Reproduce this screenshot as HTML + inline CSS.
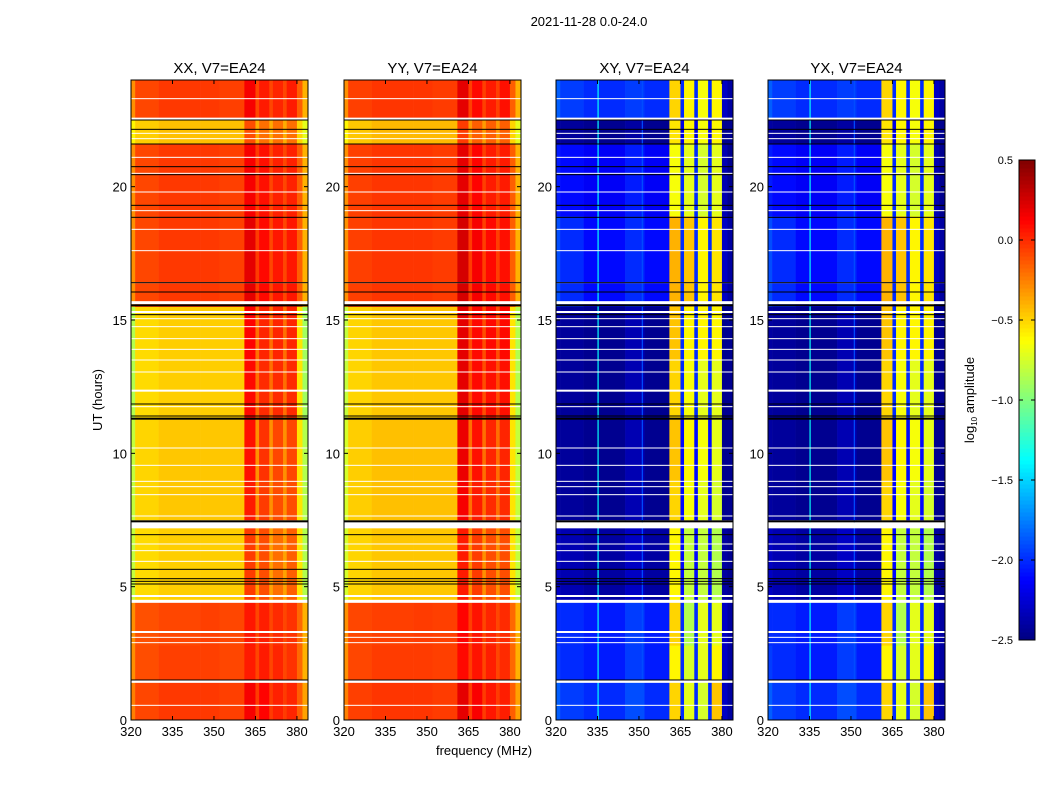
<!DOCTYPE html>
<html><head><meta charset="utf-8"><style>
body{margin:0;background:#fff;}
svg{display:block;font-family:"Liberation Sans","DejaVu Sans",sans-serif;}
</style></head><body>
<svg id="fig" width="1050" height="800" viewBox="0 0 1050 800" xmlns="http://www.w3.org/2000/svg">
<rect width="1050" height="800" fill="#fff"/>
<text x="589" y="26" font-size="13" text-anchor="middle">2021-11-28 0.0-24.0</text>
<text transform="translate(102,400) rotate(-90)" font-size="13" text-anchor="middle">UT (hours)</text>
<text x="484" y="755" font-size="13" text-anchor="middle">frequency (MHz)</text>
<g id="panels"></g>
<g id="cbar"></g>
</svg>
<script>
const panelNames = ["XX, V7=EA24","YY, V7=EA24","XY, V7=EA24","YX, V7=EA24"];
const freqEdges = [320,321.5,330,345,352,361,365,366.3,370,371.3,375,376.3,380,382,384];
const timeEdges = [0,1.5,2.8,4.5,7.3,7.5,9.0,11.3,13.5,15.5,18.9,21.6,22.5,24];
const xTicks = [320,335,350,365,380];
const yTicks = [0,5,10,15,20];
const cbarTicks = [0.5,0.0,-0.5,-1.0,-1.5,-2.0,-2.5];
const valsXX = [
[-0.25,-0.08,-0.04,-0.04,-0.06,0.15,-0.05,0.12,-0.05,0.03,-0.05,0.02,-0.15,-0.35],
[-0.3,-0.1,-0.06,-0.06,-0.08,0.05,-0.08,0.05,-0.08,0.02,-0.08,-0.02,-0.18,-0.4],
[-0.3,-0.11,-0.08,-0.06,-0.08,0.06,-0.08,0.04,-0.08,0.0,-0.08,-0.02,-0.18,-0.4],
[-0.8,-0.52,-0.48,-0.48,-0.48,-0.05,-0.35,-0.1,-0.35,-0.2,-0.35,-0.15,-0.55,-0.85],
null,
[-0.8,-0.5,-0.46,-0.46,-0.46,0.05,-0.3,-0.05,-0.3,-0.1,-0.3,-0.1,-0.55,-0.85],
[-0.8,-0.5,-0.46,-0.46,-0.46,0.08,-0.3,-0.02,-0.3,-0.08,-0.3,-0.08,-0.55,-0.85],
[-0.85,-0.52,-0.48,-0.48,-0.48,0.1,-0.2,0.0,-0.2,0.0,-0.2,0.0,-0.55,-0.9],
[-0.85,-0.52,-0.48,-0.48,-0.48,0.12,-0.2,0.02,-0.2,0.02,-0.2,0.02,-0.55,-0.9],
[-0.3,-0.08,-0.04,-0.04,-0.06,0.2,-0.05,0.1,-0.08,0.06,-0.08,0.06,-0.15,-0.4],
[-0.3,-0.08,-0.04,-0.04,-0.06,0.15,-0.05,0.08,-0.08,0.03,-0.08,0.03,-0.15,-0.4],
[-0.6,-0.48,-0.44,-0.44,-0.44,-0.1,-0.38,-0.2,-0.38,-0.2,-0.38,-0.2,-0.5,-0.7],
[-0.3,-0.08,-0.04,-0.04,-0.06,0.15,-0.08,0.05,-0.08,0.02,-0.08,0.05,-0.15,-0.4]];
const valsYY = [
[-0.25,-0.06,-0.03,-0.03,-0.05,0.2,-0.05,0.14,-0.05,0.06,-0.05,0.04,-0.15,-0.35],
[-0.3,-0.08,-0.05,-0.05,-0.06,0.1,-0.06,0.07,-0.08,0.04,-0.08,0.0,-0.18,-0.4],
[-0.3,-0.08,-0.06,-0.05,-0.06,0.12,-0.06,0.07,-0.08,0.02,-0.08,0.0,-0.18,-0.4],
[-0.75,-0.5,-0.46,-0.46,-0.46,0.05,-0.3,-0.05,-0.3,-0.1,-0.3,-0.1,-0.55,-0.8],
null,
[-0.75,-0.48,-0.44,-0.44,-0.44,0.15,-0.2,0.05,-0.2,0.0,-0.2,0.0,-0.55,-0.8],
[-0.75,-0.48,-0.44,-0.44,-0.44,0.18,-0.2,0.08,-0.2,0.02,-0.2,0.02,-0.55,-0.8],
[-0.8,-0.5,-0.46,-0.46,-0.46,0.2,-0.1,0.1,-0.1,0.08,-0.1,0.08,-0.55,-0.85],
[-0.8,-0.5,-0.46,-0.46,-0.46,0.2,-0.1,0.1,-0.1,0.1,-0.1,0.1,-0.55,-0.85],
[-0.3,-0.06,-0.03,-0.03,-0.05,0.25,-0.05,0.15,-0.06,0.1,-0.06,0.08,-0.15,-0.4],
[-0.3,-0.06,-0.03,-0.03,-0.05,0.2,-0.05,0.12,-0.06,0.05,-0.06,0.05,-0.15,-0.4],
[-0.6,-0.46,-0.42,-0.42,-0.42,-0.05,-0.33,-0.15,-0.33,-0.15,-0.33,-0.15,-0.5,-0.7],
[-0.3,-0.06,-0.03,-0.03,-0.05,0.2,-0.06,0.1,-0.06,0.05,-0.06,0.08,-0.15,-0.4]];
const valsXY = [
[-1.85,-1.95,-2.0,-1.9,-2.0,-0.5,-2.0,-0.7,-2.0,-0.75,-2.0,-0.45,-2.3,-2.4],
[-1.95,-2.0,-2.05,-1.95,-2.05,-0.6,-2.0,-0.75,-2.0,-0.7,-2.0,-0.6,-2.3,-2.4],
[-2.0,-2.0,-2.05,-1.95,-2.05,-0.5,-2.0,-0.85,-2.0,-0.7,-2.0,-0.7,-2.3,-2.4],
[-2.3,-2.35,-2.4,-2.3,-2.4,-0.6,-2.1,-0.8,-2.1,-0.8,-2.1,-0.85,-2.4,-2.45],
null,
[-2.4,-2.42,-2.45,-2.35,-2.45,-0.5,-2.1,-0.65,-2.1,-0.7,-2.1,-0.75,-2.45,-2.45],
[-2.4,-2.42,-2.45,-2.35,-2.45,-0.45,-2.1,-0.6,-2.1,-0.65,-2.1,-0.7,-2.45,-2.45],
[-2.4,-2.42,-2.45,-2.35,-2.45,-0.5,-2.0,-0.65,-2.0,-0.7,-2.0,-0.7,-2.45,-2.45],
[-2.4,-2.42,-2.45,-2.35,-2.45,-0.45,-2.0,-0.6,-2.0,-0.6,-2.0,-0.6,-2.45,-2.45],
[-1.9,-2.0,-2.1,-2.0,-2.1,-0.4,-2.0,-0.45,-2.0,-0.6,-2.0,-0.55,-2.3,-2.4],
[-2.05,-2.1,-2.15,-2.05,-2.15,-0.65,-2.0,-0.7,-2.0,-0.75,-2.0,-0.7,-2.35,-2.45],
[-2.4,-2.42,-2.45,-2.4,-2.45,-0.55,-2.2,-0.6,-2.2,-0.65,-2.2,-0.6,-2.45,-2.45],
[-1.85,-1.95,-2.0,-1.95,-2.0,-0.5,-2.0,-0.6,-2.0,-0.65,-2.0,-0.6,-2.3,-2.4]];
const valsYX = valsXY;
const vertLinesFreq = [335,351];
const vertLinesCross = [-1.35,-1.9];
const whiteHours = [0.55,1.45,2.9,3.1,3.3,4.45,4.65,5.95,6.35,6.6,7.3,7.65,8.45,8.75,8.95,9.55,10.2,11.75,12.35,13.05,13.5,13.9,14.3,14.75,15.05,15.3,15.65,16.4,17.6,18.4,19.1,19.8,20.5,21.1,21.8,22.0,22.55,23.3];
const whiteWidth = [1,3,1,1,2,3,2,1,1,1,6,1,1,1,1,1,1,1,2,1,1,1,1,1,1,2,3,1,1,1,1,1,1,1,1,1,2,1];
const blackHours = [1.5,5.1,5.2,5.3,5.65,6.95,7.45,11.3,11.4,11.85,15.2,15.55,16.05,16.4,18.85,19.3,20.45,20.75,21.6,22.15,22.5];
const blackWidth = [1,1,1,1,1,1,2,2,1,1,1,2,1,1,1,1,1,1,1,1,1];

const panelX = [131,344,556,768];
const PW = 177, Y0 = 80, Y1 = 720;
const VMIN = -2.5, VMAX = 0.5;
const NS = "http://www.w3.org/2000/svg";
function xScale(px, f){ return px + (f-320)/64*PW; }
function yScale(h){ return Y1 - h/24*(Y1-Y0); }
function clip(v){ return Math.max(0,Math.min(1,v)); }
function jet(v){
  const t = clip((v-VMIN)/(VMAX-VMIN));
  const r = clip(1.5-Math.abs(4*t-3)), g = clip(1.5-Math.abs(4*t-2)), b = clip(1.5-Math.abs(4*t-1));
  return `rgb(${Math.round(r*255)},${Math.round(g*255)},${Math.round(b*255)})`;
}
function mk(tag, attrs, parent){
  const e = document.createElementNS(NS, tag);
  for (const k in attrs) e.setAttribute(k, attrs[k]);
  parent.appendChild(e); return e;
}
const panelsG = document.getElementById('panels');
const allVals = [valsXX, valsYY, valsXY, valsYX];
allVals.forEach((vals, p) => {
  const px = panelX[p];
  const g = mk('g', {}, panelsG);
  
  
  for (let r = 0; r < timeEdges.length-1; r++) {
    const row = vals[r];
    const yTop = yScale(timeEdges[r+1]), yBot = yScale(timeEdges[r]);
    for (let c = 0; c < freqEdges.length-1; c++) {
      const x0 = xScale(px, freqEdges[c]), x1 = xScale(px, freqEdges[c+1]);
      const cell = mk('rect', {x:x0, y:yTop, width:x1-x0+0.3, height:yBot-yTop+0.3, fill: row ? jet(row[c]) : '#fff'}, g);
      
      
    }
  }
  if (p >= 2) {
    vertLinesFreq.forEach((f, i) => {
      const vx = xScale(px, f);
      const ln = mk('rect', {x:vx, y:Y0, width:1.2, height:Y1-Y0, fill:jet(vertLinesCross[i])}, g);
      
      
    });
  }
  whiteHours.forEach((h, i) => {
    const w = mk('rect', {x:px, y:yScale(h)-whiteWidth[i]/2, width:PW, height:whiteWidth[i], fill:'#fff'}, g);
    
    
  });
  blackHours.forEach((h, i) => {
    const b = mk('rect', {x:px, y:yScale(h)-blackWidth[i]/2, width:PW, height:blackWidth[i], fill:'#000'}, g);
    
    
  });
  const frame = mk('rect', {x:px, y:Y0, width:PW, height:Y1-Y0, fill:'none', stroke:'#000', 'stroke-width':1}, g);
  
  
  const title = mk('text', {x:px+PW/2, y:73, 'font-size':15, 'text-anchor':'middle'}, g);
  title.textContent = panelNames[p];
  
  
  xTicks.forEach(f => {
    const tx = xScale(px, f);
    mk('line', {x1:tx, x2:tx, y1:Y1, y2:Y1-4, stroke:'#000'}, g);
    mk('line', {x1:tx, x2:tx, y1:Y0, y2:Y0+4, stroke:'#000'}, g);
    const t = mk('text', {x:tx, y:Y1+16, 'font-size':13, 'text-anchor':'middle'}, g);
    t.textContent = f;
    
    
  });
  yTicks.forEach(h => {
    const ty = yScale(h);
    mk('line', {x1:px, x2:px+4, y1:ty, y2:ty, stroke:'#000'}, g);
    mk('line', {x1:px+PW, x2:px+PW-4, y1:ty, y2:ty, stroke:'#000'}, g);
    const t = mk('text', {x:px-4, y:ty+5, 'font-size':13, 'text-anchor':'end'}, g);
    t.textContent = h;
    
    
  });
});
// colorbar
const cb = document.getElementById('cbar');


const CBX = 1019, CBW = 16, CBT = 160, CBB = 640;
function cbY(v){ return CBB - (v-VMIN)/(VMAX-VMIN)*(CBB-CBT); }
for (let i = 0; i < 120; i++) {
  const v0 = VMIN + (VMAX-VMIN)*i/120, v1 = VMIN + (VMAX-VMIN)*(i+1)/120;
  mk('rect', {x:CBX, y:cbY(v1), width:CBW, height:cbY(v0)-cbY(v1)+0.5, fill:jet((v0+v1)/2)}, cb);
}
mk('rect', {x:CBX, y:CBT, width:CBW, height:CBB-CBT, fill:'none', stroke:'#000'}, cb);
cbarTicks.forEach(v => {
  const y = cbY(v);
  mk('line', {x1:CBX, x2:CBX+4, y1:y, y2:y, stroke:'#000'}, cb);
  mk('line', {x1:CBX+CBW, x2:CBX+CBW-4, y1:y, y2:y, stroke:'#000'}, cb);
  const t = mk('text', {x:CBX-6, y:y+4, 'font-size':11, 'text-anchor':'end'}, cb);
  t.textContent = v.toFixed(1).replace('-', '\u2212');
  
  
});
const cl = mk('text', {transform:'translate(974,400) rotate(-90)', 'font-size':13, 'text-anchor':'middle'}, cb);
cl.innerHTML = 'log<tspan font-size="8" dy="3">10</tspan><tspan dy="-3"> amplitude</tspan>';


</script>
</body></html>
